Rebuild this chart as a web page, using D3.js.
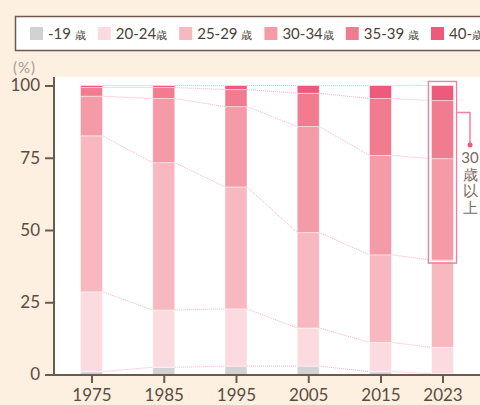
<!DOCTYPE html>
<html>
<head>
<meta charset="utf-8">
<script src="https://cdn.jsdelivr.net/npm/d3@7/dist/d3.min.js"></script>
<style>
  body { margin: 0; background: #fdf0e1; }
  svg { display: block; font-family: Lato, "Noto Sans", sans-serif; }
</style>
</head>
<body>
<script>
// age groups and share of births (%) by year
var years = [1975, 1985, 1995, 2005, 2015, 2023];
var groups = ["-19", "20-24", "25-29", "30-34", "35-39", "40-"];
var legendLabels = ["-19 ", "20-24", "25-29 ", "30-34", "35-39 ", "40-"];
var colors = ["#d2d2d4", "#fcdbe0", "#f8b8bf", "#f59aa7", "#f17c8f", "#ee5a7b"];

var under19 = [1.0, 2.5, 2.9, 2.9, 1.0, 0.3];
var age20_24 = [27.6, 19.8, 19.8, 13.2, 10.1, 9.1];
var age25_29 = [54.0, 51.0, 42.2, 33.0, 30.3, 30.2];
var age30_34 = [13.7, 22.2, 27.8, 36.7, 34.4, 35.1];
var age35_39 = [3.0, 3.8, 5.9, 11.5, 19.7, 20.1];
var age40 = [0.7, 0.7, 1.4, 2.7, 4.5, 5.2];

var yTicks = [0, 25, 50, 75, 100];
var noteText = ["30", "歳", "以", "上"];

var width = 480, height = 405;

var svg = d3.select("body").append("svg")
    .attr("width", width)
    .attr("height", height);

// white plot area
svg.append("rect")
    .attr("x", 55).attr("y", 77)
    .attr("width", width - 55).attr("height", 298)
    .attr("fill", "#fff");

// scales
var xScale = d3.scaleLinear()
    .domain([1975, 2015, 2023])
    .range([91.5, 380.5, 442.5]);
var yScale = d3.scaleLinear().domain([0, 100]).range([374.5, 85.5]);
var barW = 22;

// stack the data
var table = years.map(function(y, i) {
    return {year: y, "-19": under19[i], "20-24": age20_24[i], "25-29": age25_29[i],
        "30-34": age30_34[i], "35-39": age35_39[i], "40-": age40[i]};
});
var series = d3.stack().keys(groups)(table);

// connector lines between bars
series.forEach(function(s) {
    for (var i = 0; i < s.length - 1; i++) {
        svg.append("line")
            .attr("x1", xScale(years[i]) + barW / 2)
            .attr("x2", xScale(years[i + 1]) - barW / 2)
            .attr("y1", yScale(s[i][1]))
            .attr("y2", yScale(s[i + 1][1]))
            .attr("stroke", "#f7b0c3")
            .attr("stroke-width", 1)
            .attr("stroke-dasharray", "1,1");
    }
});

// bars
svg.selectAll(".layer")
    .data(series)
    .enter().append("g")
    .attr("class", "layer")
    .attr("fill", function(d, i) { return colors[i]; })
    .selectAll("rect")
    .data(function(d) { return d; })
    .enter().append("rect")
    .attr("x", function(d) { return xScale(d.data.year) - barW / 2; })
    .attr("y", function(d) { return yScale(d[1]); })
    .attr("width", barW)
    .attr("height", function(d) { return yScale(d[0]) - yScale(d[1]); })
    .attr("stroke", "rgba(255,255,255,0.45)")
    .attr("stroke-width", 1);

// highlight box around 30+ in 2023
var last = years.length - 1;
var bx = xScale(years[last]) - barW / 2 - 3;
var by = yScale(100) - 4;
var bh = yScale(series[3][last][0]) + 3 - by;
svg.append("rect")
    .attr("x", bx).attr("y", by)
    .attr("width", barW + 6).attr("height", bh)
    .attr("fill", "none")
    .attr("stroke", "#f0809d")
    .attr("stroke-width", 1.5);
svg.append("rect")
    .attr("x", bx + 1.5).attr("y", by + 1.5)
    .attr("width", barW + 3).attr("height", bh - 3)
    .attr("fill", "none")
    .attr("stroke", "#fff")
    .attr("stroke-width", 1);

svg.append("path")
    .attr("d", "M" + (bx + barW + 6) + "," + 112.5 + "H470V144")
    .attr("fill", "none")
    .attr("stroke", "#f0809d")
    .attr("stroke-width", 1.5);
svg.append("circle")
    .attr("cx", 470).attr("cy", 145)
    .attr("r", 2.5)
    .attr("fill", "#ee5a7b");

svg.selectAll(".note")
    .data(noteText)
    .enter().append("text")
    .attr("class", "note")
    .attr("x", 470)
    .attr("y", function(d, i) { return 163 + i * 16.5; })
    .attr("text-anchor", "middle")
    .attr("font-size", 15)
    .attr("fill", "#7a6a5e")
    .text(function(d) { return d; });

// y axis
var yAxis = d3.axisLeft(yScale).tickValues(yTicks).tickSize(9).tickPadding(5);
var gy = svg.append("g")
    .attr("transform", "translate(54,0)")
    .call(yAxis);
gy.select(".domain").remove();
gy.selectAll("line").attr("stroke", "#6b5a4e").attr("stroke-width", 2);
gy.selectAll("text")
    .attr("font-size", 17)
    .attr("fill", "#5b4b40")
    .attr("font-family", "Lato, sans-serif");

svg.append("line")
    .attr("x1", 54).attr("x2", 54)
    .attr("y1", 77).attr("y2", 375)
    .attr("stroke", "#6b5a4e")
    .attr("stroke-width", 2);

// x axis
var xAxis = d3.axisBottom(xScale).tickValues(years).tickFormat(d3.format("d"))
    .tickSize(8).tickPadding(6);
var gx = svg.append("g")
    .attr("transform", "translate(0,375)")
    .call(xAxis);
gx.select(".domain").remove();
gx.selectAll("line").attr("stroke", "#6b5a4e").attr("stroke-width", 2);
gx.selectAll("text")
    .attr("font-size", 17)
    .attr("fill", "#5b4b40")
    .attr("font-family", "Lato, sans-serif");

svg.append("line")
    .attr("x1", 45).attr("x2", width)
    .attr("y1", 375).attr("y2", 375)
    .attr("stroke", "#6b5a4e")
    .attr("stroke-width", 2);

// unit label
svg.append("text")
    .attr("x", 13).attr("y", 73)
    .attr("font-size", 15)
    .attr("letter-spacing", 1)
    .attr("fill", "#a39a93")
    .text("(%)");

// legend
svg.append("rect")
    .attr("x", 15.5).attr("y", 16.5)
    .attr("width", 480).attr("height", 34)
    .attr("fill", "#fff")
    .attr("stroke", "#6b5a4e")
    .attr("stroke-width", 1.5);

var lx = 30;
groups.forEach(function(g, i) {
    svg.append("rect")
        .attr("x", lx).attr("y", 27)
        .attr("width", 13).attr("height", 13)
        .attr("fill", colors[i]);
    var t = svg.append("text")
        .attr("x", lx + 18).attr("y", 39)
        .attr("fill", "#4a3f38");
    t.append("tspan").attr("font-size", 15).text(legendLabels[i]);
    t.append("tspan").attr("font-size", 11).text("歳");
    lx = lx + 18 + t.node().getComputedTextLength() + 12;
});
</script>
</body>
</html>
